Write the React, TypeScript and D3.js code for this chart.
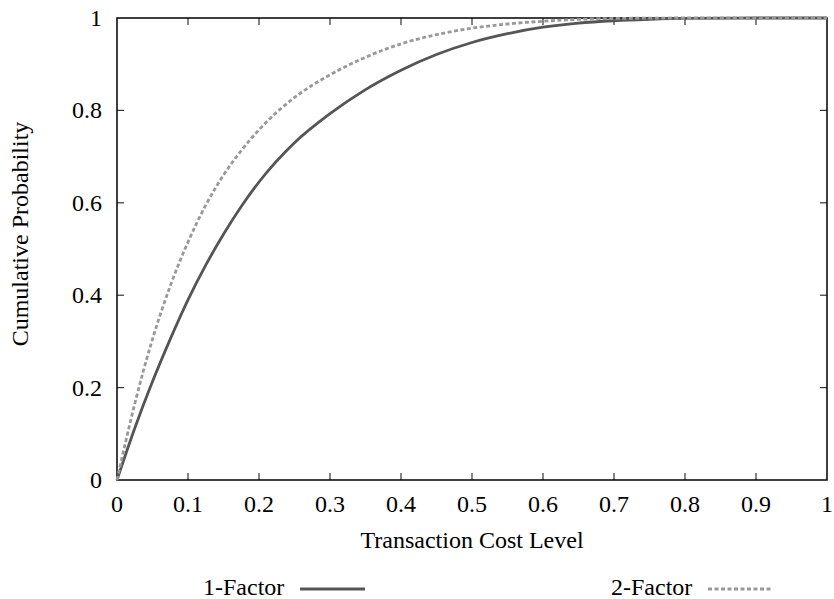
import * as d3 from "d3";

// 1-Factor (solid) and 2-Factor (dashed) cumulative curves
const xs1 = [0, 0.025, 0.05, 0.075, 0.1, 0.125, 0.15, 0.175, 0.2, 0.25, 0.3, 0.35, 0.4, 0.45, 0.5, 0.55, 0.6, 0.65, 0.7, 0.75, 0.8, 0.9, 1.0];
const oneFactor = [0, 0.112, 0.213, 0.305, 0.39, 0.465, 0.532, 0.592, 0.645, 0.73, 0.793, 0.845, 0.887, 0.921, 0.947, 0.966, 0.98, 0.989, 0.994, 0.997, 0.999, 1.0, 1.0];

const xs2 = [0, 0.025, 0.05, 0.075, 0.1, 0.125, 0.15, 0.175, 0.2, 0.25, 0.3, 0.35, 0.4, 0.45, 0.5, 0.55, 0.6, 0.65, 0.7, 0.8, 0.9, 1.0];
const twoFactor = [0, 0.165, 0.305, 0.42, 0.515, 0.595, 0.66, 0.713, 0.758, 0.828, 0.877, 0.915, 0.944, 0.964, 0.978, 0.987, 0.993, 0.997, 0.999, 1.0, 1.0, 1.0];

const xTicks = [0, 0.1, 0.2, 0.3, 0.4, 0.5, 0.6, 0.7, 0.8, 0.9, 1];
const yTicks = [0, 0.2, 0.4, 0.6, 0.8, 1];

const W = 834;
const H = 599;
const FONT = "'Liberation Serif', 'Times New Roman', Times, serif";

export default function App() {
  const x = d3.scaleLinear().domain([0, 1]).range([117, 827]);
  const y = d3.scaleLinear().domain([0, 1]).range([480, 18]);
  const tickLen = 7;

  const line = d3
    .line<[number, number]>()
    .x((d) => x(d[0]))
    .y((d) => y(d[1]))
    .curve(d3.curveMonotoneX);

  const path1 = line(xs1.map((v, i) => [v, oneFactor[i]]) as [number, number][]) || "";
  const path2 = line(xs2.map((v, i) => [v, twoFactor[i]]) as [number, number][]) || "";

  const fmt = (v: number) => (v === 0 || v === 1 ? String(v) : d3.format(".1f")(v));
  const [x0, x1] = x.range();
  const [y0, y1] = y.range();

  return (
    <svg
      width={W}
      height={H}
      style={{ position: "absolute", left: 0, top: 0, display: "block", background: "#fff", fontFamily: FONT, fontSize: "24px" }}
    >
      {/* inward ticks on all four sides */}
      <g stroke="#333" strokeWidth={1.2}>
        {xTicks.slice(1, -1).map((t) => (
          <g key={"xt" + t}>
            <line x1={x(t)} x2={x(t)} y1={y0} y2={y0 - tickLen} />
            <line x1={x(t)} x2={x(t)} y1={y1} y2={y1 + tickLen} />
          </g>
        ))}
        {yTicks.slice(1, -1).map((t) => (
          <g key={"yt" + t}>
            <line x1={x0} x2={x0 + tickLen} y1={y(t)} y2={y(t)} />
            <line x1={x1} x2={x1 - tickLen} y1={y(t)} y2={y(t)} />
          </g>
        ))}
      </g>
      <rect x={x0} y={y1} width={x1 - x0} height={y0 - y1} fill="none" stroke="#000" strokeWidth={1.5} />

      <path d={path1} fill="none" stroke="#555" strokeWidth={2.8} />
      <path d={path2} fill="none" stroke="#999" strokeWidth={2.8} strokeDasharray="4,2.5" />

      {/* tick labels */}
      {xTicks.map((t) => (
        <text key={"xl" + t} x={x(t)} y={512} textAnchor="middle" fill="#000">
          {fmt(t)}
        </text>
      ))}
      {yTicks.map((t) => (
        <text key={"yl" + t} x={102} y={y(t) + 8} textAnchor="end" fill="#000">
          {fmt(t)}
        </text>
      ))}

      <text x={(x0 + x1) / 2} y={548} textAnchor="middle" fill="#000">
        Transaction Cost Level
      </text>
      <text transform={`translate(28,234) rotate(-90)`} textAnchor="middle" fill="#000">
        Cumulative Probability
      </text>

      {/* legend */}
      <text x={203} y={595} fill="#000">1-Factor</text>
      <line x1={300} x2={365} y1={589} y2={589} stroke="#555" strokeWidth={2.8} />
      <text x={611} y={595} fill="#000">2-Factor</text>
      <line x1={708} x2={773} y1={589} y2={589} stroke="#999" strokeWidth={2.8} strokeDasharray="4,2.5" />
    </svg>
  );
}
